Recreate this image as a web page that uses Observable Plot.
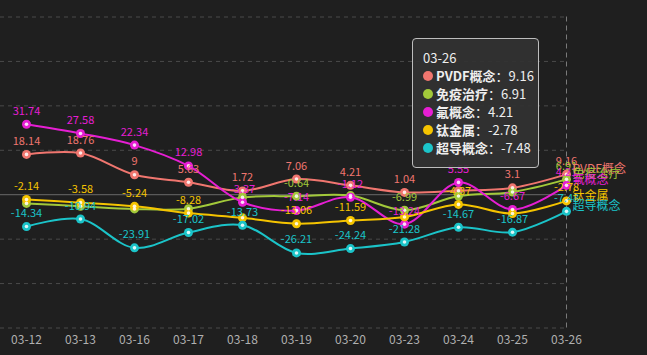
<!DOCTYPE html>
<html>
<head>
<meta charset="utf-8">
<script src="https://cdn.jsdelivr.net/npm/d3@7"></script>
<script src="https://cdn.jsdelivr.net/npm/@observablehq/plot@0.6"></script>
<style>
  html, body { margin: 0; padding: 0; background: #1f1f1f; }
  #wrap { position: relative; width: 647px; height: 355px; overflow: hidden; }
  #tip {
    position: absolute; left: 412px; top: 38px; width: 127px; height: 130px;
    box-sizing: border-box; padding: 10px 10px; background: rgba(50,50,50,0.92);
    border: 1px solid #bdbdbd; border-radius: 4px; color: #eee;
    font-family: "Noto Sans CJK SC", sans-serif; font-size: 13px; line-height: 18px;
  }
  #tip .row { white-space: nowrap; display: flex; align-items: center; }
  #tip .dot { display: inline-block; flex: 0 0 10px; width: 10px; height: 10px; border-radius: 50%; margin-right: 3px; }
  #tip b { font-weight: 700; }
</style>
</head>
<body>
<div id="wrap"></div>
<script>
const dates = ["03-12","03-13","03-16","03-17","03-18","03-19","03-20","03-23","03-24","03-25","03-26"];
const seriesNames = ["PVDF概念","免疫治疗","氟概念","钛金属","超导概念"];
const seriesColors = ["#f0766f","#a2c93a","#e61ed3","#f5c400","#1bc4c9"];

const pvdf    = [18.14, 18.76, 9, 5.63, 1.72, 7.06, 4.21, 1.04, 1.8, 3.1, 9.16];
const mianyi  = [-3.9, -5.2, -6.4, -6.3, -1.2, -0.64, -0.4, -6.99, -0.6, 1.2, 6.91];
const fu      = [31.74, 27.58, 22.34, 12.98, -3.37, -7.14, -1.12, -13.24, 5.55, -6.67, 4.21];
const tai     = [-2.14, -3.58, -5.24, -8.28, -10.4, -13.06, -11.59, -10.0, -4.37, -8.5, -2.78];
const chaodao = [-14.34, -10.94, -23.91, -17.02, -13.73, -26.21, -24.24, -21.28, -14.67, -16.87, -7.48];

// value labels hidden by overlap in the reference (series index -> date indices)
const hiddenLabels = {0: [8], 1: [0,1,2,3,4,6,8,9], 3: [4,7,9]};

const gridValues = [80, 60, 40, 20, -20, -40, -60];
const tooltipDate = "03-26";

const seriesValues = [pvdf, mianyi, fu, tai, chaodao];
const rows = seriesNames.flatMap((name, s) =>
  seriesValues[s].map((v, i) => ({name, s, i, date: dates[i], value: v})));
const labelRows = rows.filter(d => !(hiddenLabels[d.s] || []).includes(d.i));
const endRows = rows.filter(d => d.date === tooltipDate);

const font = "'Noto Sans CJK SC', sans-serif";

const chart = Plot.plot({
  width: 647, height: 355,
  marginLeft: 0, marginRight: 81, marginTop: 16.5, marginBottom: 27.5,
  style: {background: "#1f1f1f", color: "#b0b0b0", fontFamily: font, fontSize: "12px"},
  x: {type: "point", domain: dates, range: [25.7, 566], padding: 0, label: null},
  y: {domain: [-60, 80], axis: null},
  color: {domain: seriesNames, range: seriesColors},
  marks: [
    Plot.ruleY(gridValues, {stroke: "#4a4a4a", strokeDasharray: "4,4"}),
    Plot.ruleY([0], {stroke: "#6a6a6a"}),
    Plot.ruleX([tooltipDate], {stroke: "#7a7a7a", strokeDasharray: "5,4"}),
    Plot.lineY(rows, {x: "date", y: "value", z: "name", stroke: "name", curve: "catmull-rom", strokeWidth: 2}),
    Plot.dot(rows, {x: "date", y: "value", fill: "name", r: 4.5}),
    Plot.dot(rows, {x: "date", y: "value", fill: "#ffffff", fillOpacity: 0.85, r: 1.8}),
    Plot.text(labelRows, {x: "date", y: "value", text: d => String(d.value), fill: "name", dy: -13, fontSize: 11}),
    Plot.text(endRows, {x: "date", y: "value", text: "name", fill: "name", textAnchor: "start", dx: 6, dy: -5, fontSize: 12}),
    Plot.axisX({tickSize: 0, tickPadding: 7, fill: "#b0b0b0", fontSize: 12})
  ]
});

const wrap = document.getElementById("wrap");
wrap.appendChild(chart);

const ti = dates.indexOf(tooltipDate);
const tip = document.createElement("div");
tip.id = "tip";
let html = `<div>${tooltipDate}</div>`;
seriesNames.forEach((n, s) => {
  html += `<div class="row"><span class="dot" style="background:${seriesColors[s]}"></span><b>${n}</b>：${seriesValues[s][ti]}</div>`;
});
tip.innerHTML = html;
wrap.appendChild(tip);
</script>
</body>
</html>
